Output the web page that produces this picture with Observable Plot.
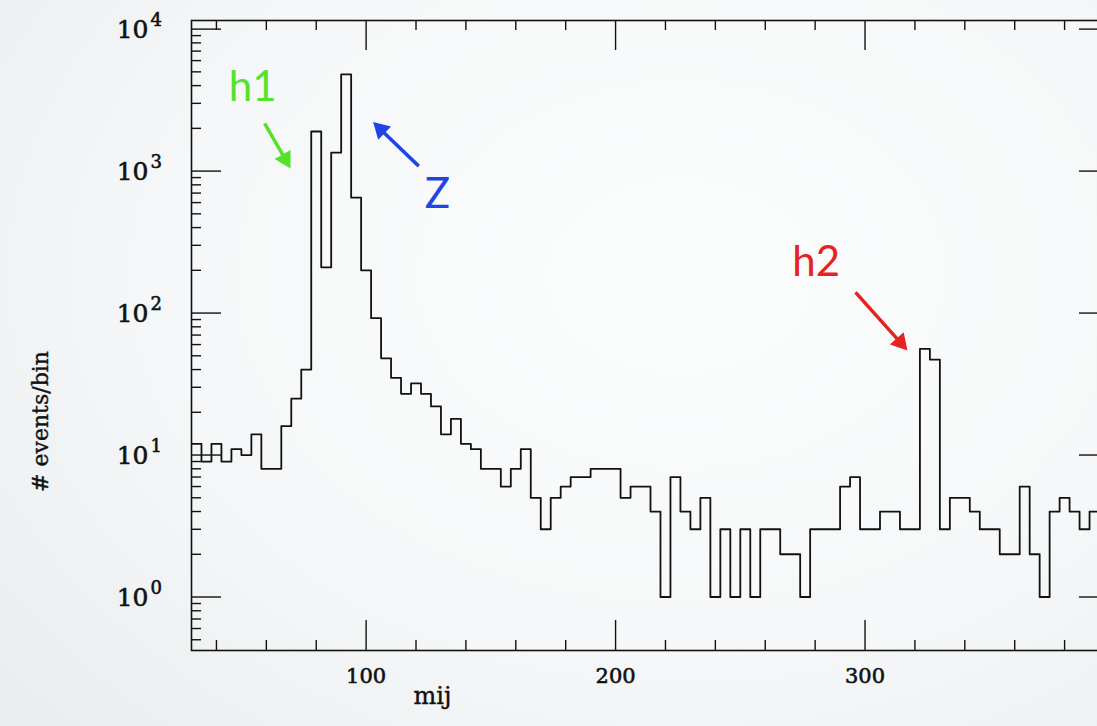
<!DOCTYPE html>
<html>
<head>
<meta charset="utf-8">
<script src="https://cdn.jsdelivr.net/npm/d3@7"></script>
<script src="https://cdn.jsdelivr.net/npm/@observablehq/plot@0.6"></script>
<style>
  html, body { margin: 0; padding: 0; width: 1097px; height: 726px; overflow: hidden; }
  body { background: radial-gradient(ellipse 85% 95% at 62% 38%, #fcfdfd 0%, #f5f7f8 55%, #e9ecee 100%); }
  #chart { position: absolute; left: 0; top: 0; }
</style>
</head>
<body>
<div id="chart"></div>
<script>
// ---- data ----
const binStart = 30;      // lower edge of first bin
const binWidth = 4;       // bin width
const counts = [
  12, 9, 12, 9, 11, 10, 14, 8, 8, 16,        // 30 - 66
  25, 40, 1900, 210, 1350, 4800, 650, 200, 92, 48,  // 70 - 106
  35, 27, 32, 27, 22, 14, 18, 12, 11, 8,     // 110 - 146
  8, 6, 8, 11, 5, 3, 5, 6, 7, 7,             // 150 - 186
  8, 8, 8, 5, 6, 6, 4, 1, 7, 4,              // 190 - 226
  3, 5, 1, 3, 1, 3, 1, 3, 3, 2,              // 230 - 266
  2, 1, 3, 3, 3, 6, 7, 3, 3, 4,              // 270 - 306
  4, 3, 3, 56, 47, 3, 5, 5, 4, 3,            // 310 - 346
  3, 2, 2, 6, 2, 1, 4, 5, 4, 3,              // 350 - 386
  4, 1                                       // 390 - 394
];
const xMajorTicks = [100, 200, 300];
const xMinorTicks = [40, 60, 80, 120, 140, 160, 180, 220, 240, 260, 280, 320, 340, 360, 380];
const yMajorTicks = [1, 10, 100, 1000, 10000];
const yMinorMantissas = [2, 3, 4, 5, 6, 7, 8, 9];
const yMinorDecades = [0.1, 1, 10, 100, 1000];
const xTitle = "mij";
const yTitle = "# events/bin";
const annotations = [
  {label: "h1", x: 54.5, y: 3900, color: "#55e22c"},
  {label: "Z",  x: 128.6, y: 680, color: "#2244e4"},
  {label: "h2", x: 280.4, y: 226, color: "#e5231f"}
];
const arrows = [
  {x1: 59.3, y1: 2170, x2: 69.7, y2: 1045, color: "#55e22c"},
  {x1: 121.1, y1: 1084, x2: 102.8, y2: 2213, color: "#2244e4"},
  {x1: 296.2, y1: 140, x2: 317.0, y2: 54.6, color: "#e5231f"}
];

// ---- layout ----
const W = 1125, H = 726, mL = 191, mR = 16, mT = 20, mB = 76;
const innerW = W - mL - mR, innerH = H - mT - mB;
const majorLen = 30, minorLen = 10;
const xDomain = [30, 398], yDomain = [0.42, 11500];

// ---- derived tables ----
const binLow = counts.map((_, i) => binStart + i * binWidth);
const steps = binLow.map((x, i) => ({x, y: counts[i]}));
steps.push({x: binLow[binLow.length - 1] + binWidth, y: counts[counts.length - 1]});
const yMinorTicks = yMinorDecades.flatMap(d => yMinorMantissas.map(m => m * d)).filter(v => v >= yDomain[0] && v <= yDomain[1]);

// arrow shafts + filled heads, computed through the same scales as the plot
const sx = Plot.scale({x: {type: "linear", domain: xDomain, range: [mL, W - mR]}});
const sy = Plot.scale({y: {type: "log", domain: yDomain, range: [H - mB, mT]}});
const headH = 16;
const headR = Math.sqrt(3 * Math.sqrt(3) * (headH / 3) ** 2 / Math.PI);
const shafts = [], heads = [];
for (const a of arrows) {
  const px1 = sx.apply(a.x1), py1 = sy.apply(a.y1), px2 = sx.apply(a.x2), py2 = sy.apply(a.y2);
  const len = Math.hypot(px2 - px1, py2 - py1), ux = (px2 - px1) / len, uy = (py2 - py1) / len;
  const bx = px2 - ux * (headH - 3), by = py2 - uy * (headH - 3);
  shafts.push({x1: a.x1, y1: a.y1, x2: sx.invert(bx), y2: sy.invert(by), color: a.color});
  const cx = px2 - ux * headH * 2 / 3, cy = py2 - uy * headH * 2 / 3;
  heads.push({x: sx.invert(cx), y: sy.invert(cy), rotate: Math.atan2(ux, -uy) * 180 / Math.PI, color: a.color});
}

const tickStyle = {stroke: "#111", strokeWidth: 1.4};
const labelStyle = {fontFamily: "DejaVu Serif", fill: "#111", stroke: "#111", strokeWidth: 0.6};
const chart = Plot.plot({
  width: W,
  height: H,
  marginLeft: mL,
  marginRight: mR,
  marginTop: mT,
  marginBottom: mB,
  style: {background: "transparent", maxWidth: "none", fontFamily: "DejaVu Serif", overflow: "visible"},
  x: {type: "linear", domain: xDomain, axis: null},
  y: {type: "log", domain: yDomain, axis: null},
  marks: [
    // histogram outline
    Plot.line(steps, {x: "x", y: "y", curve: "step-after", stroke: "#111", strokeWidth: 1.8, clip: true}),
    // frame
    Plot.frame({stroke: "#111", strokeWidth: 1.6}),
    // bottom ticks
    Plot.ruleX(xMajorTicks, {x: d => d, insetTop: innerH - majorLen, ...tickStyle}),
    Plot.ruleX(xMinorTicks, {x: d => d, insetTop: innerH - minorLen, ...tickStyle}),
    // top ticks
    Plot.ruleX(xMajorTicks, {x: d => d, insetBottom: innerH - majorLen, ...tickStyle}),
    Plot.ruleX(xMinorTicks, {x: d => d, insetBottom: innerH - minorLen, ...tickStyle}),
    // left ticks
    Plot.ruleY(yMajorTicks, {y: d => d, insetRight: innerW - majorLen, ...tickStyle}),
    Plot.ruleY(yMinorTicks, {y: d => d, insetRight: innerW - minorLen, ...tickStyle}),
    // right ticks
    Plot.ruleY(yMajorTicks, {y: d => d, insetLeft: innerW - majorLen, ...tickStyle}),
    Plot.ruleY(yMinorTicks, {y: d => d, insetLeft: innerW - minorLen, ...tickStyle}),
    // y tick labels 10^n
    Plot.text(yMajorTicks, {y: d => d, text: () => "10", frameAnchor: "left", dx: -43, dy: 1, textAnchor: "end", fontSize: 25, ...labelStyle}),
    Plot.text(yMajorTicks, {y: d => d, text: d => String(Math.round(Math.log10(d))), frameAnchor: "left", dx: -41, dy: -9, textAnchor: "start", fontSize: 18, ...labelStyle}),
    // x tick labels
    Plot.text(xMajorTicks, {x: d => d, text: d => String(d), frameAnchor: "bottom", lineAnchor: "middle", dy: 26, fontSize: 21, ...labelStyle}),
    // axis titles
    Plot.text([xTitle], {x: () => 126.6, frameAnchor: "bottom", lineAnchor: "middle", dy: 46, fontSize: 24, ...labelStyle, strokeWidth: 0.4, text: d => d}),
    Plot.text([yTitle], {frameAnchor: "left", textAnchor: "middle", lineAnchor: "middle", dx: -151, dy: 86, rotate: -90, fontSize: 22, ...labelStyle, strokeWidth: 0.4, text: d => d}),
    // annotations
    Plot.link(shafts, {x1: "x1", y1: "y1", x2: "x2", y2: "y2", stroke: "color", strokeWidth: 3.5}),
    Plot.dot(heads, {x: "x", y: "y", r: headR, symbol: "triangle", rotate: "rotate", fill: "color", stroke: "none"}),
    Plot.text(annotations, {x: "x", y: "y", text: "label", fill: "color", fontSize: 42, fontFamily: "Lato"})
  ]
});
document.getElementById("chart").appendChild(chart);
</script>
</body>
</html>
